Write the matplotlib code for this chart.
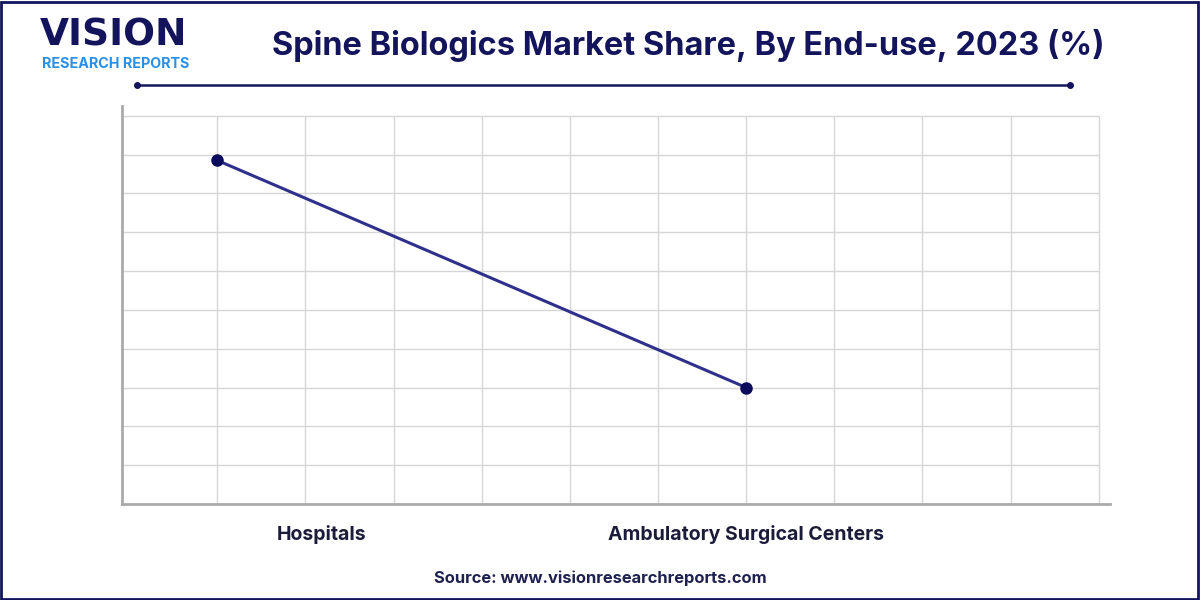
import matplotlib.pyplot as plt
import matplotlib.transforms as mtransforms
from matplotlib.lines import Line2D
from matplotlib.patches import Rectangle
import numpy as np

categories = ["Hospitals", "Ambulatory Surgical Centers"]
shares = [88.5, 30.0]

title = "Spine Biologics Market Share, By End-use, 2023 (%)"
source = "Source: www.visionresearchreports.com"

navy = "#13145c"
line_col = "#2f2f8c"

plt.rcParams['font.family'] = ['Inter', 'DejaVu Sans']

fig = plt.figure(figsize=(12, 6), dpi=100)
ax = fig.add_axes([0.1017, 0.16, 0.8233, 0.6633])

x = np.arange(len(categories))
xmin, xmax = -0.18, 1.688
ax.set_xlim(xmin, xmax)
ax.set_ylim(0, 102.5)

# grid: vertical lines every 1/6 of a category step, horizontal every 10
grid_x = np.arange(0, 11) / 6
grid_y = np.arange(10, 101, 10)
ax.vlines(grid_x, 0, 100, color='#d6d6d6', linewidth=1, zorder=1)
ax.hlines(grid_y, xmin, grid_x[-1], color='#d6d6d6', linewidth=1, zorder=1)

ax.plot(x, shares, color=line_col, linewidth=2.2, marker='o',
        markersize=8, markerfacecolor="#0b0b5c", markeredgecolor="#0b0b5c", zorder=3)

ax.tick_params(which='both', length=0)
ax.set_yticks([])
ax.set_xticks(x)
ax.set_xticklabels(categories, fontsize=14, fontweight='bold', color='#1b1b3a')
ax.tick_params(axis='x', pad=15)
# first label sits to the right of its point in the reference
offset = mtransforms.ScaledTranslation(1.04, 0, fig.dpi_scale_trans)
lbl = ax.get_xticklabels()[0]
lbl.set_transform(lbl.get_transform() + offset)

for side in ['top', 'right']:
    ax.spines[side].set_visible(False)
for side in ['left', 'bottom']:
    ax.spines[side].set_color('#aaaaaa')
    ax.spines[side].set_linewidth(2)

# header
fig.text(0.227, 0.925, title, fontsize=23.4, fontweight='bold', color=navy,
         ha='left', va='center')
fig.text(0.033, 0.94, "VISION", fontsize=27, fontweight='bold', color=navy,
         ha='left', va='center', family='DejaVu Sans')
fig.text(0.035, 0.893, "RESEARCH REPORTS", fontsize=10.3, fontweight='bold',
         color='#2a8fe6', ha='left', va='center')
fig.add_artist(Line2D([0.114, 0.892], [0.858, 0.858], color=navy, linewidth=1.8,
                      marker='o', markersize=4, markevery=[0, 1]))

fig.text(0.5, 0.037, source, fontsize=11.9, fontweight='bold', color='#1f2150',
         ha='center', va='center')

fig.add_artist(Rectangle((0.001, 0.002), 0.997, 0.995, fill=False,
                         edgecolor=navy, linewidth=2, transform=fig.transFigure))

fig.savefig("out.png", dpi=100)
